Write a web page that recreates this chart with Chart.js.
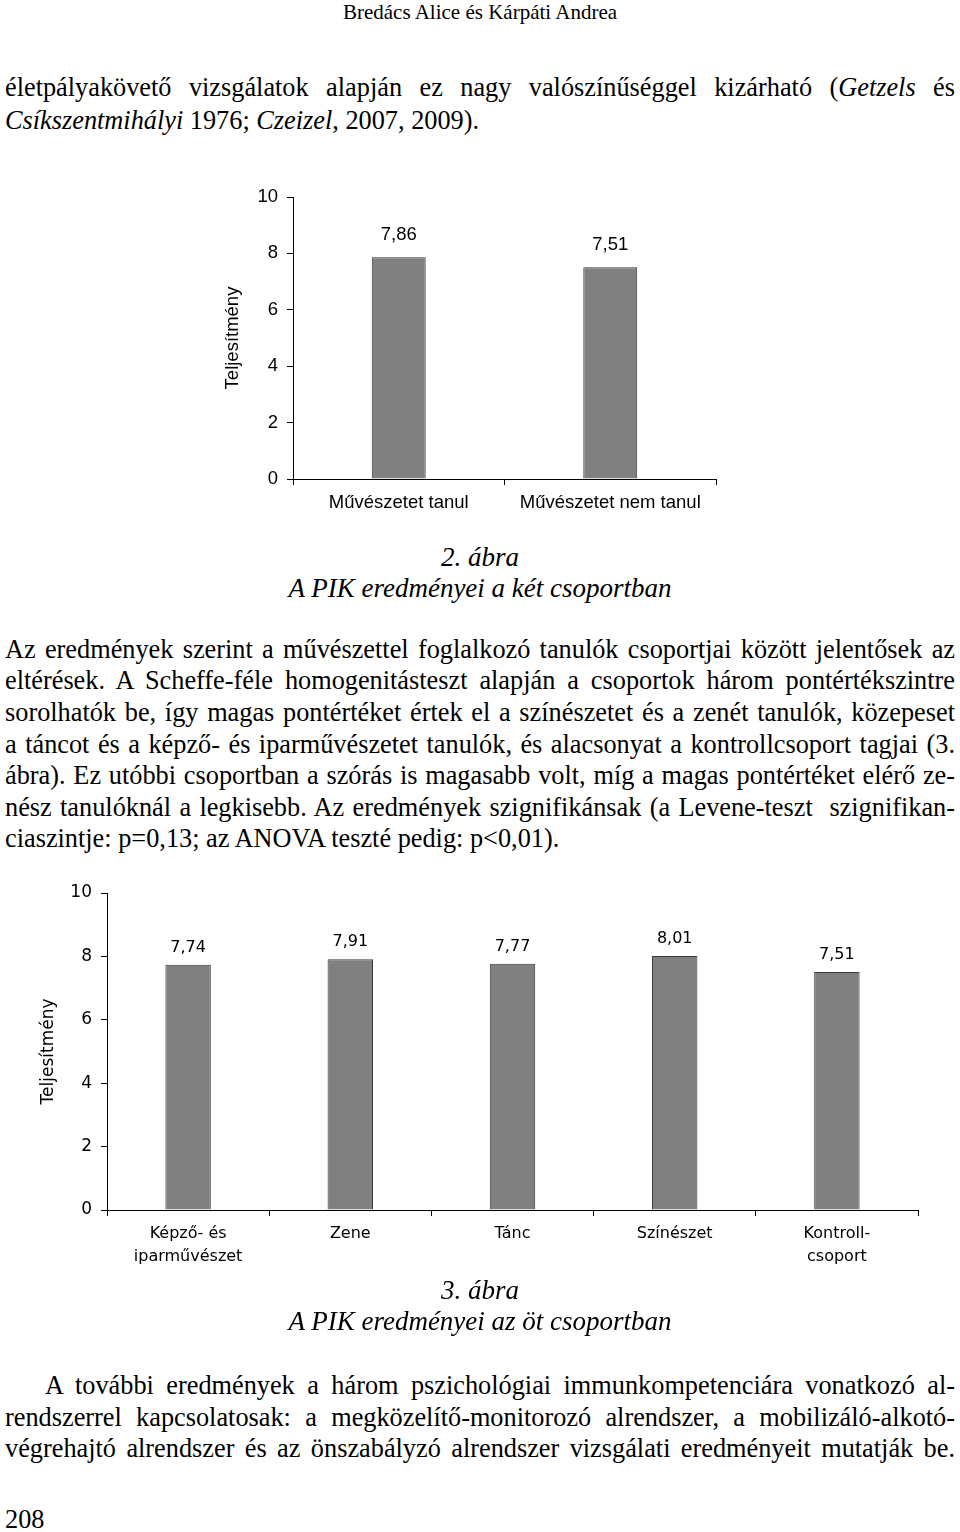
<!DOCTYPE html>
<html>
<head>
<meta charset="utf-8">
<script src="https://cdn.jsdelivr.net/npm/chart.js@4/dist/chart.umd.min.js"></script>
<style>
  html, body { margin: 0; padding: 0; background: #fff; }
  body { width: 960px; height: 1532px; position: relative; overflow: hidden;
         font-family: "Liberation Serif", "Times New Roman", serif; color: #000; }
  .ln { position: absolute; left: 5px; width: 950px; font-size: 26.3px; line-height: 32px;
        white-space: nowrap; text-align: justify; text-align-last: justify; }
  .nl { text-align-last: left; }
  .c { text-align: center; text-align-last: center; font-style: italic; font-size: 27px; }
  .hdr { position: absolute; left: 0; width: 960px; top: 0; font-size: 21px; line-height: 24px; text-align: center; }
  .cv { position: absolute; }
</style>
</head>
<body>
<div class="hdr">Bredács Alice és Kárpáti Andrea</div>
<div class="ln" style="top:72px">életpályakövető vizsgálatok alapján ez nagy valószínűséggel kizárható (<i>Getzels</i> és</div>
<div class="ln nl" style="top:105px"><i>Csíkszentmihályi</i> 1976; <i>Czeizel</i>, 2007, 2009).</div>

<canvas id="c1" class="cv" width="540" height="350" style="left:200px;top:170px"></canvas>

<div class="ln c" style="top:541px">2. ábra</div>
<div class="ln c" style="top:572px">A PIK eredményei a két csoportban</div>

<div class="ln" style="top:634px">Az eredmények szerint a művészettel foglalkozó tanulók csoportjai között jelentősek az</div>
<div class="ln" style="top:665px">eltérések. A Scheffe-féle homogenitásteszt alapján a csoportok három pontértékszintre</div>
<div class="ln" style="top:697px">sorolhatók be, így magas pontértéket értek el a színészetet és a zenét tanulók, közepeset</div>
<div class="ln" style="top:729px">a táncot és a képző- és iparművészetet tanulók, és alacsonyat a kontrollcsoport tagjai (3.</div>
<div class="ln" style="top:760px">ábra). Ez utóbbi csoportban a szórás is magasabb volt, míg a magas pontértéket elérő ze-</div>
<div class="ln" style="top:792px">nész tanulóknál a legkisebb. Az eredmények szignifikánsak (a Levene-teszt&nbsp; szignifikan-</div>
<div class="ln nl" style="top:823px">ciaszintje: p=0,13; az ANOVA teszté pedig: p&lt;0,01).</div>

<canvas id="c2" class="cv" width="920" height="420" style="left:20px;top:870px"></canvas>

<div class="ln c" style="top:1274px">3. ábra</div>
<div class="ln c" style="top:1305px">A PIK eredményei az öt csoportban</div>

<div class="ln" style="top:1370px;left:45px;width:910px">A további eredmények a három pszichológiai immunkompetenciára vonatkozó al-</div>
<div class="ln" style="top:1402px">rendszerrel kapcsolatosak: a megközelítő-monitorozó alrendszer, a mobilizáló-alkotó-</div>
<div class="ln" style="top:1433px">végrehajtó alrendszer és az önszabályzó alrendszer vizsgálati eredményeit mutatják be.</div>
<div class="ln nl" style="top:1504px">208</div>

<script>
const yAxisTitle = 'Teljesítmény';
const yTickMin = 0;
const yTickMax = 10;
const yTickStep = 2;

const chart1Categories = ['Művészetet tanul', 'Művészetet nem tanul'];
const chart1Values = [7.86, 7.51];

const chart2Categories = [['Képző- és', 'iparművészet'], 'Zene', 'Tánc', 'Színészet', ['Kontroll-', 'csoport']];
const chart2Values = [7.74, 7.91, 7.77, 8.01, 7.51];

Chart.defaults.color = '#000';

function fmt(v) { return v.toFixed(2).replace('.', ','); }

function valueLabelPlugin(fontSpec, gap) {
  return {
    id: 'valueLabels',
    afterDatasetsDraw(chart) {
      const ctx = chart.ctx;
      ctx.save();
      ctx.font = fontSpec;
      ctx.fillStyle = '#000';
      ctx.textAlign = 'center';
      ctx.textBaseline = 'middle';
      chart.data.datasets.forEach((ds, di) => {
        chart.getDatasetMeta(di).data.forEach((bar, i) => {
          ctx.fillText(fmt(ds.data[i]), bar.x, bar.y - gap);
        });
      });
      ctx.restore();
    }
  };
}

function makeChart(id, cats, vals, opts) {
  const font = { family: opts.family, size: opts.size, lineHeight: opts.lh };
  return new Chart(document.getElementById(id), {
    type: 'bar',
    data: {
      labels: cats,
      datasets: [{
        data: vals,
        backgroundColor: '#808080',
        borderColor: '#3a3a3a',
        borderWidth: 1,
        categoryPercentage: 1,
        barPercentage: opts.barPct
      }]
    },
    options: {
      responsive: false,
      animation: false,
      events: [],
      layout: { padding: { top: opts.padTop, right: opts.padRight, left: 0, bottom: 0 } },
      plugins: { legend: { display: false }, tooltip: { enabled: false } },
      scales: {
        x: {
          grid: { drawOnChartArea: false, drawTicks: true, tickLength: 6, color: '#000', offset: true },
          border: { color: '#000', width: 1 },
          ticks: { font: font, color: '#000', padding: opts.xPad, maxRotation: 0, autoSkip: false },
          afterFit(s) { s.height = opts.xHeight; }
        },
        y: {
          min: yTickMin, max: yTickMax,
          grid: { drawOnChartArea: false, drawTicks: true, tickLength: 6, color: '#000' },
          border: { color: '#000', width: 1 },
          ticks: { stepSize: yTickStep, font: { family: opts.family, size: opts.ySize }, color: '#000', padding: 9 },
          title: { display: true, text: yAxisTitle, font: { family: opts.family, size: opts.tSize, lineHeight: 1.2 }, color: '#000', padding: { top: opts.titlePad, bottom: 0 } },
          afterFit(s) { s.width = opts.yWidth; }
        }
      }
    },
    plugins: [valueLabelPlugin(opts.size + 'px "' + opts.family + '"', opts.gap)]
  });
}

makeChart('c1', chart1Categories, chart1Values, {
  family: 'Liberation Sans', size: 18.5, ySize: 18.5, tSize: 18.5, lh: 1.2, barPct: 0.255,
  padTop: 27, padRight: 24, xHeight: 41, yWidth: 93, titlePad: 22, xPad: 7, gap: 22
});

makeChart('c2', chart2Categories, chart2Values, {
  family: 'DejaVu Sans', size: 16, ySize: 17, tSize: 17, lh: 1.4, barPct: 0.28,
  padTop: 23, padRight: 22, xHeight: 80, yWidth: 87, titlePad: 18, xPad: 7, gap: 17
});
</script>
</body>
</html>
